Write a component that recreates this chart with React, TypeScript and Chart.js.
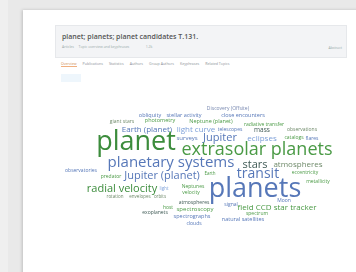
import React, { useEffect, useRef } from "react";
import { Chart, registerables } from "chart.js";

Chart.register(...registerables);

// Word cloud data: term, weight (font px), position (page coordinates, text baseline), colour group
const words = [
  "Discovery (Offsite)", "obliquity", "stellar activity", "close encounters",
  "giant stars", "photometry", "Neptune (planet)", "radiative transfer",
  "Earth (planet)", "light curve", "telescopes", "mass", "observations",
  "planet", "surveys", "Jupiter", "eclipses", "catalogs", "flares",
  "extrasolar planets", "planetary systems", "stars", "atmospheres",
  "observatories", "predator", "Jupiter (planet)", "Earth", "transit",
  "eccentricity", "metallicity", "radial velocity", "light", "Neptunes",
  "velocity", "planets", "rotation", "envelopes", "orbits", "atmospheres",
  "signal", "Moon", "host", "spectroscopy", "field CCD star tracker",
  "exoplanets", "spectrum", "spectrographs", "natural satellites", "clouds",
];
const weights = [
  5, 5.5, 5.5, 5.5,
  5, 5.5, 5.5, 5,
  8, 8, 5, 6.5, 5,
  27, 6, 11, 8, 5, 5,
  18, 15, 11, 8,
  5, 5, 11, 4.5, 14,
  5, 5, 11, 4.5, 5,
  5, 27, 4.5, 4.5, 4.5, 5,
  5, 5, 5, 6, 8,
  5, 5, 5.5, 5.5, 5,
];
const xs = [
  228, 150, 184, 243,
  122, 160, 211, 264,
  147, 196, 230, 262, 302,
  136, 187, 220, 262, 294, 312,
  257, 171, 255, 298,
  81, 111, 162, 210, 258,
  305, 318, 122, 164, 193,
  191, 255, 115, 140, 160, 194,
  231, 284, 168, 195, 277,
  155, 257, 192, 243, 194,
];
const ys = [
  110, 117, 117, 117,
  123, 122, 123, 126,
  132, 132, 131, 132, 131,
  150, 140, 141, 141, 139, 140,
  155, 167, 168, 167,
  172, 178, 179, 175, 178,
  174, 183, 192, 190, 188,
  194, 197, 198, 198, 198, 204,
  206, 202, 209, 211, 210,
  214, 215, 218, 221, 225,
];
const groups = [
  4, 1, 1, 1,
  3, 0, 0, 0,
  1, 2, 1, 5, 3,
  6, 1, 1, 2, 0, 1,
  0, 1, 5, 3,
  1, 0, 1, 0, 1,
  0, 0, 6, 2, 0,
  0, 1, 3, 3, 3, 5,
  1, 1, 0, 0, 0,
  5, 0, 1, 1, 1,
];
const palette = ["#4a9a45", "#5677b8", "#7c9fd8", "#6f8a6a", "#7888b0", "#3f5a55", "#3c8c3c"];

const tabs = ["Overview", "Publications", "Statistics", "Authors", "Group Authors", "Keyphrases", "Related Topics"];

const wordPlugin = {
  id: "wordcloud",
  afterDatasetsDraw(chart: any) {
    const ctx = chart.ctx;
    const sx = chart.scales.x;
    const sy = chart.scales.y;
    ctx.save();
    ctx.textAlign = "center";
    ctx.textBaseline = "alphabetic";
    words.forEach((w, i) => {
      const px = sx.getPixelForValue(xs[i]);
      const py = sy.getPixelForValue(ys[i]);
      ctx.font = `${weights[i]}px "Open Sans", "DejaVu Sans", sans-serif`;
      ctx.fillStyle = palette[groups[i]];
      ctx.fillText(w, px, py);
    });
    ctx.restore();
  },
};

export default function App() {
  const ref = useRef<HTMLCanvasElement>(null);
  useEffect(() => {
    document.body.style.margin = "0";
    const chart = new Chart(ref.current!, {
      type: "scatter",
      data: {
        datasets: [
          {
            data: xs.map((x, i) => ({ x, y: ys[i] })),
            pointRadius: 0,
            pointHoverRadius: 0,
          },
        ],
      },
      options: {
        animation: false,
        responsive: false,
        devicePixelRatio: 1,
        layout: { padding: 0 },
        events: [],
        plugins: { legend: { display: false }, tooltip: { enabled: false } },
        scales: {
          x: { type: "linear", min: 0, max: 356, display: false },
          y: { type: "linear", min: 0, max: 272, reverse: true, display: false },
        },
      },
      plugins: [wordPlugin],
    });
    return () => chart.destroy();
  }, []);

  return (
    <div style={{ position: "relative", width: 356, height: 272, background: "#e9e9e9", overflow: "hidden", fontFamily: '"Open Sans", sans-serif' }}>
      <div style={{ position: "absolute", left: 0, top: 0, width: 8, height: 272, background: "#efefef" }} />
      <div style={{ position: "absolute", left: 23, top: 10, width: 340, height: 270, background: "#ffffff", boxShadow: "-1px 0 3px rgba(0,0,0,0.18)" }} />
      <div style={{ position: "absolute", left: 55, top: 25, width: 292, height: 33, background: "#f3f4f6", border: "1px solid #e6e8eb", boxSizing: "border-box" }}>
        <div style={{ position: "absolute", left: 6, top: 6, fontSize: 7, color: "#555", fontWeight: 600, whiteSpace: "nowrap" }}>
          planet; planets; planet candidates T.131.
        </div>
        <div style={{ position: "absolute", left: 6, top: 18, fontSize: 3.5, color: "#9aa", whiteSpace: "nowrap" }}>
          Articles &nbsp;&nbsp;&nbsp; Topic overview and keyphrases &nbsp;&nbsp;&nbsp;&nbsp;&nbsp;&nbsp;&nbsp;&nbsp;&nbsp;&nbsp;&nbsp;&nbsp;&nbsp;&nbsp;&nbsp;&nbsp; 1.2k
        </div>
        <div style={{ position: "absolute", right: 4, top: 19, fontSize: 3.5, color: "#9aa", whiteSpace: "nowrap" }}>Abstract</div>
      </div>
      <div style={{ position: "absolute", left: 61, top: 61, display: "flex", gap: 6, fontSize: 3.6, color: "#8a8f96", whiteSpace: "nowrap" }}>
        {tabs.map((t, i) => (
          <span key={t} style={{ borderBottom: i === 0 ? "1px solid #f0b080" : "none", color: i === 0 ? "#d08a50" : "#8a8f96" }}>{t}</span>
        ))}
      </div>
      <div style={{ position: "absolute", left: 61, top: 74, width: 20, height: 8, background: "#eef6fc" }} />
      <canvas ref={ref} width={356} height={272} style={{ position: "absolute", left: 0, top: 0, width: 356, height: 272 }} />
    </div>
  );
}
